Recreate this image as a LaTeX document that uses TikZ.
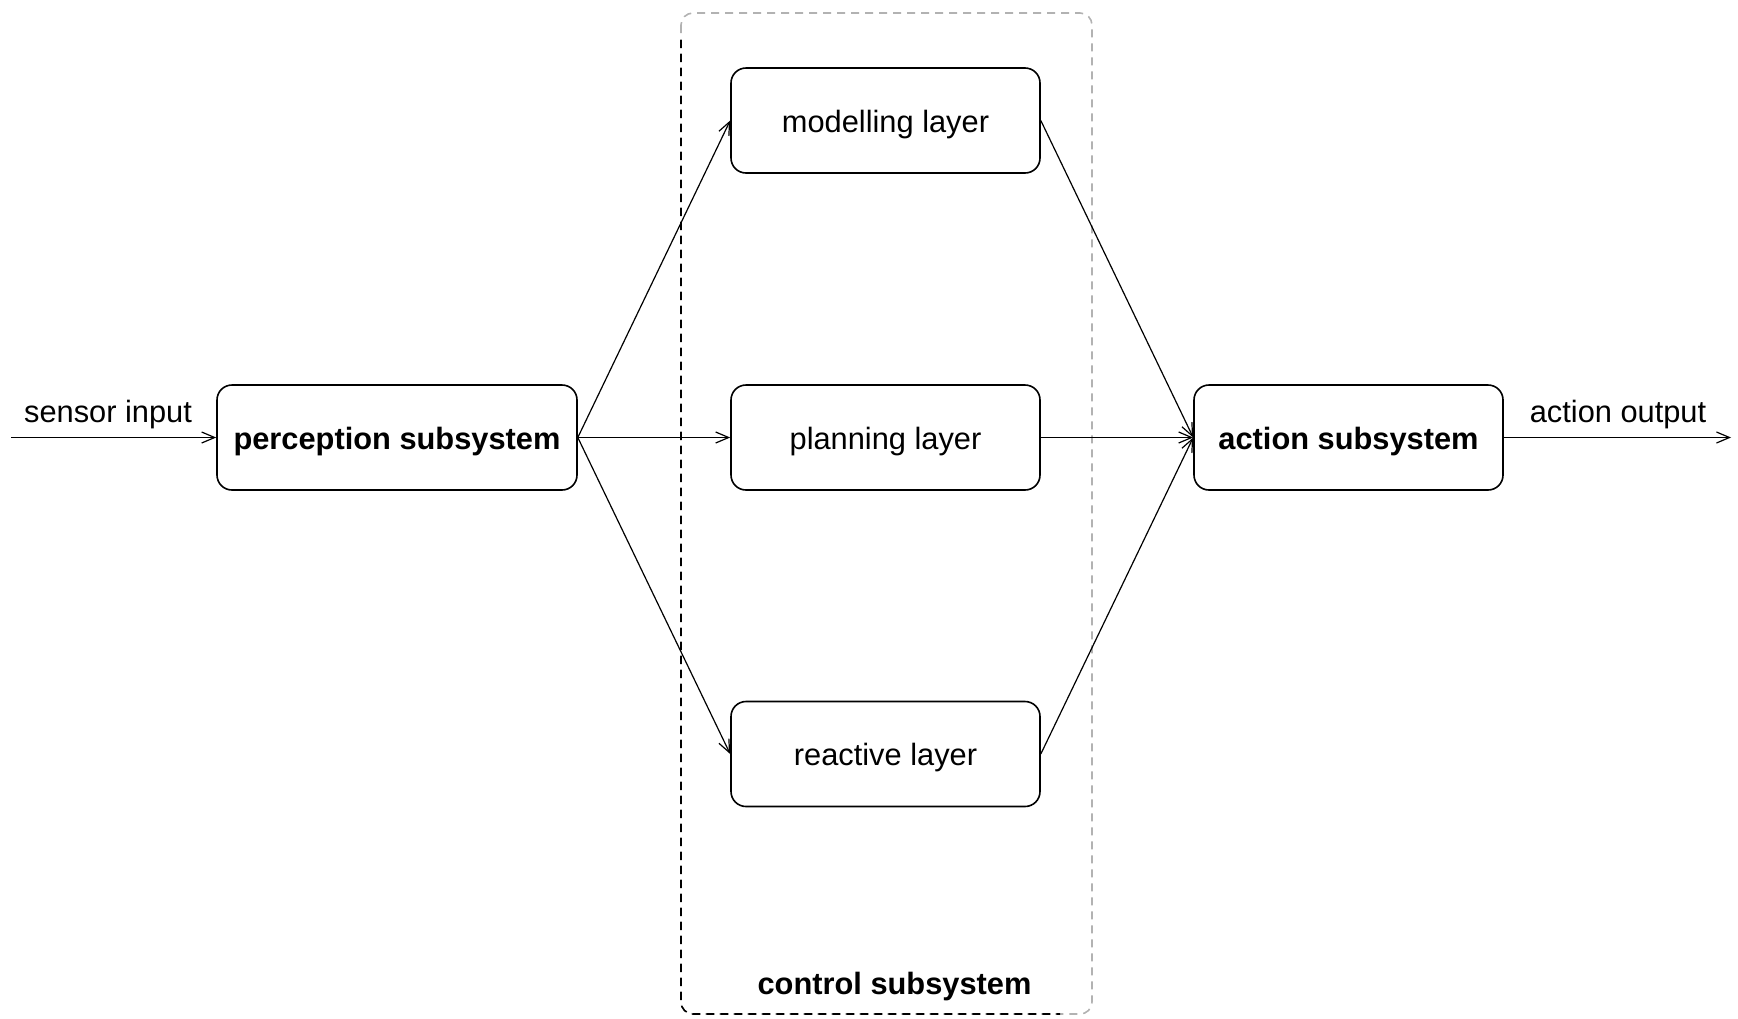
\documentclass[tikz,border=0pt]{standalone}
\usepackage{fontspec}
\setmainfont{Liberation Sans}
\usetikzlibrary{arrows.meta}
\begin{document}
\begin{tikzpicture}[x=0.5pt,y=-0.5pt,
  box/.style={draw, line width=0.8pt, rounded corners=7.5pt, minimum height=52.5pt, inner sep=0pt, text height=11.6pt, text depth=0pt, font=\fontsize{15.4}{18}\selectfont},
  conn/.style={line width=0.6pt, -{Straight Barb[length=6.5pt,width=5.5pt,line width=0.6pt]}},
  lbl/.style={font=\fontsize{15.4}{18}\selectfont, inner sep=0pt},
  ctrl/.style={dash pattern=on 4pt off 3pt, line width=0.8pt}]
\useasboundingbox (0,0) rectangle (1738,1018);
% control subsystem frame
\draw[ctrl, gray!60, rounded corners=6pt] (681,13) rectangle (1092,1014);
\draw[ctrl, black, rounded corners=6pt] (681,40) -- (681,1014) -- (1060,1014);
\node[lbl, font=\fontsize{15.4}{18}\selectfont\bfseries] (ctrllbl) at (894.5,987) {control subsystem};
% nodes
\node[box, minimum width=180pt, font=\fontsize{15.4}{18}\selectfont\bfseries] (perc) at (397,437.5) {perception subsystem};
\node[box, minimum width=154.5pt] (model) at (885.5,120.5) {modelling layer};
\node[box, minimum width=154.5pt] (plan) at (885.5,437.5) {planning layer};
\node[box, minimum width=154.5pt] (react) at (885.5,754) {reactive layer};
\node[box, minimum width=154.5pt, font=\fontsize{15.4}{18}\selectfont\bfseries] (act) at (1348.5,437.5) {action subsystem};
\coordinate (in) at (11,437.5);
\coordinate (out) at (1731,437.5);
% connectors
\draw[conn] (in) -- (perc.west);
\node[lbl] (sensorlbl) at (108,415) {sensor input};
\draw[conn] (act.east) -- (out);
\node[lbl] (outlbl) at (1618,415) {action output};
\draw[conn] (perc.east) -- (model.west);
\draw[conn] (perc.east) -- (plan.west);
\draw[conn] (perc.east) -- (react.west);
\draw[conn] (model.east) -- (act.west);
\draw[conn] (plan.east) -- (act.west);
\draw[conn] (react.east) -- (act.west);
\end{tikzpicture}
\end{document}
